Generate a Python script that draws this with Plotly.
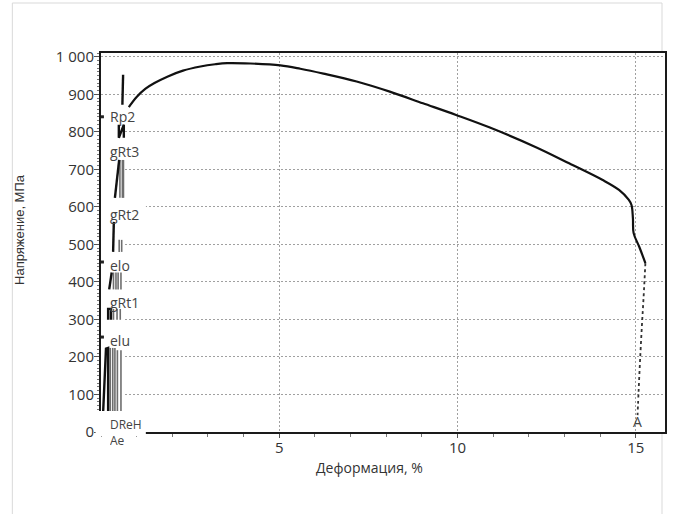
import plotly.graph_objects as go

# ---- main stress-strain curve (strain %, stress MPa)
strain = [0.78, 1.0, 1.25, 1.5, 1.86, 2.3, 2.79, 3.2, 3.54, 4.19, 5.03, 5.59, 6.24, 7.17, 8.10,
          9.03, 9.96, 10.89, 12.2, 13.13, 14.06, 14.53, 14.8, 14.88, 14.92, 14.94, 15.1, 15.27]
stress = [866, 893, 915, 930, 947, 963, 974, 980, 983, 982, 977, 968, 955, 934, 907,
          876, 845, 812, 759, 716, 672, 645, 619, 605, 570, 530, 493, 450]

# ---- dotted fracture line down to "A"
break_x = [15.27, 15.22, 15.17, 15.12, 15.08, 15.05]
break_y = [450, 360, 280, 190, 110, 45]

# ---- small loading/unloading segments near the origin (black strokes)
seg_rp2_x = [0.60, 0.62]
seg_rp2_y = [872, 952]
seg_rp2b_x = [0.50, 0.50, 0.64, 0.64]
seg_rp2b_y = [819, 784, 819, 784]
seg_rt3_x = [0.39, 0.51]
seg_rt3_y = [624, 725]
seg_rt2_x = [0.34, 0.36]
seg_rt2_y = [480, 560]
seg_elo_x = [0.23, 0.30]
seg_elo_y = [380, 425]
seg_rt1_x = [0.20, 0.20, 0.28, 0.28]
seg_rt1_y = [299, 328, 328, 299]
seg_elu_x = [0.06, 0.11, 0.14, 0.20, 0.20]
seg_elu_y = [53, 150, 222, 224, 53]

# ---- thin grey unloading lines: x position, bottom, top
grey_x = [0.53, 0.60, 0.63, 0.51, 0.58, 0.35, 0.42, 0.48, 0.56, 0.35, 0.45, 0.54,
          0.26, 0.33, 0.39, 0.46, 0.56]
grey_lo = [624, 624, 624, 480, 480, 380, 380, 380, 380, 299, 299, 299,
           53, 53, 53, 53, 53]
grey_hi = [725, 725, 725, 512, 512, 425, 425, 425, 425, 328, 328, 328,
           224, 224, 224, 218, 218]

# ---- event labels
label_text = ["Rp2", "gRt3", "gRt2", "elo", "gRt1", "elu"]
label_y = [840, 747, 579, 445, 344, 243]
marker_y = [840, 453, 253]

y_ticks = list(range(0, 1001, 100))
x_ticks = [5, 10, 15]

fig = go.Figure()

black_sets = [(seg_rp2_x, seg_rp2_y), (seg_rp2b_x, seg_rp2b_y), (seg_rt3_x, seg_rt3_y),
              (seg_rt2_x, seg_rt2_y), (seg_elo_x, seg_elo_y), (seg_rt1_x, seg_rt1_y),
              (seg_elu_x, seg_elu_y)]

gx, gy = [], []
for x, lo, hi in zip(grey_x, grey_lo, grey_hi):
    gx += [x, x, None]
    gy += [lo, hi, None]
fig.add_trace(go.Scatter(x=gx, y=gy, mode="lines",
                         line=dict(color="#6e6e6e", width=1.6), hoverinfo="skip"))

for sx, sy in black_sets:
    fig.add_trace(go.Scatter(x=sx, y=sy, mode="lines",
                             line=dict(color="#111", width=2.4), hoverinfo="skip"))

fig.add_trace(go.Scatter(x=strain, y=stress, mode="lines", line_shape="spline",
                         line=dict(color="#111", width=2.2)))
fig.add_trace(go.Scatter(x=break_x, y=break_y, mode="lines", line_shape="spline",
                         line=dict(color="#333", width=1.8, dash="dot")))
fig.add_trace(go.Scatter(x=[0.04] * len(marker_y), y=marker_y, mode="markers",
                         marker=dict(color="#222", size=3, symbol="square"),
                         cliponaxis=False))

lab_font = dict(family="Open Sans", size=14, color="#444")
for t, yv in zip(label_text, label_y):
    fig.add_annotation(x=0.2, y=yv, xref="x", yref="y", text=t, showarrow=False,
                       xanchor="left", yanchor="middle", font=lab_font)
fig.add_annotation(x=0.2, y=0, xref="x", yref="paper", yshift=8, text="DReH",
                   showarrow=False, xanchor="left", yanchor="middle", height=12,
                   font=dict(family="Open Sans", size=12, color="#444"))
fig.add_annotation(x=0.2, y=0, xref="x", yref="paper", yshift=-8, text="Ae",
                   showarrow=False, xanchor="left", yanchor="middle", height=12,
                   font=dict(family="Open Sans", size=12, color="#444"))
fig.add_annotation(x=15.06, y=27, xref="x", yref="y", text="A", showarrow=False,
                   font=lab_font)

# axis titles
fig.add_annotation(x=0, xref="paper", xshift=-81, xanchor="center",
                   y=0.533, yref="paper", yanchor="middle",
                   text="Напряжение, МПа", textangle=-90, showarrow=False,
                   font=dict(family="Liberation Sans", size=13, color="#333"))
fig.add_annotation(x=7.54, xref="x", y=0, yref="paper", yshift=-35, yanchor="middle",
                   text="Деформация, %", showarrow=False,
                   font=dict(family="Open Sans", size=14, color="#333"))

# white masks hiding grid near the marks and the frame corner
fig.add_shape(type="rect", xref="x", yref="y", x0=0, x1=0.62, y0=60, y1=860,
              fillcolor="white", line_width=0, layer="between")
fig.add_shape(type="rect", xref="x", yref="y", x0=0, x1=1.26, y0=590, y1=612,
              fillcolor="white", line_width=0, layer="between")
fig.add_shape(type="rect", xref="paper", yref="paper", x0=-0.0095, x1=0.0795,
              y0=-0.011, y1=0.0554, fillcolor="white", line_width=0, layer="above")

# light outer border
fig.add_shape(type="path", xref="paper", yref="paper",
              path="M -0.1572,-0.25 L -0.1572,1.1319 L 0.9947,1.1319 L 0.9947,1.0 "
                   "M 0.9947,0 L 0.9947,-0.25",
              line=dict(color="#d9d9d9", width=1), layer="below")

fig.update_layout(
    width=673, height=514, autosize=False,
    margin=dict(l=101, r=6, t=53, b=82),
    paper_bgcolor="white", plot_bgcolor="white",
    showlegend=False, separators=", ",
    xaxis=dict(range=[0, 15.82], showline=True, mirror=True, linecolor="#1a1a1a",
               linewidth=2, ticks="outside", tickvals=x_ticks, ticklen=4,
               tickcolor="#555", showgrid=True, gridcolor="#a0a0a0", griddash="2px,2px",
               gridwidth=1, zeroline=False, ticklabelstandoff=-3,
               tickfont=dict(family="Open Sans", size=15, color="#333"),
               minor=dict(dtick=1, tick0=0, ticklen=3, ticks="outside",
                          tickcolor="#777", showgrid=False)),
    yaxis=dict(range=[0, 1010], showline=True, mirror=True, linecolor="#1a1a1a",
               linewidth=2, ticks="outside", tickvals=y_ticks, tickformat=",d",
               ticklen=5, tickcolor="#555", showgrid=True, gridcolor="#a0a0a0",
               griddash="2px,2px", gridwidth=1, zeroline=False, ticklabelstandoff=-3,
               tickfont=dict(family="Open Sans", size=15, color="#333"),
               minor=dict(dtick=10, tick0=0, ticklen=2.5, ticks="outside",
                          tickcolor="#777", showgrid=False)),
)

fig.write_html("out.html", config={"displayModeBar": False},
               post_script="document.body.style.margin='0px';")
